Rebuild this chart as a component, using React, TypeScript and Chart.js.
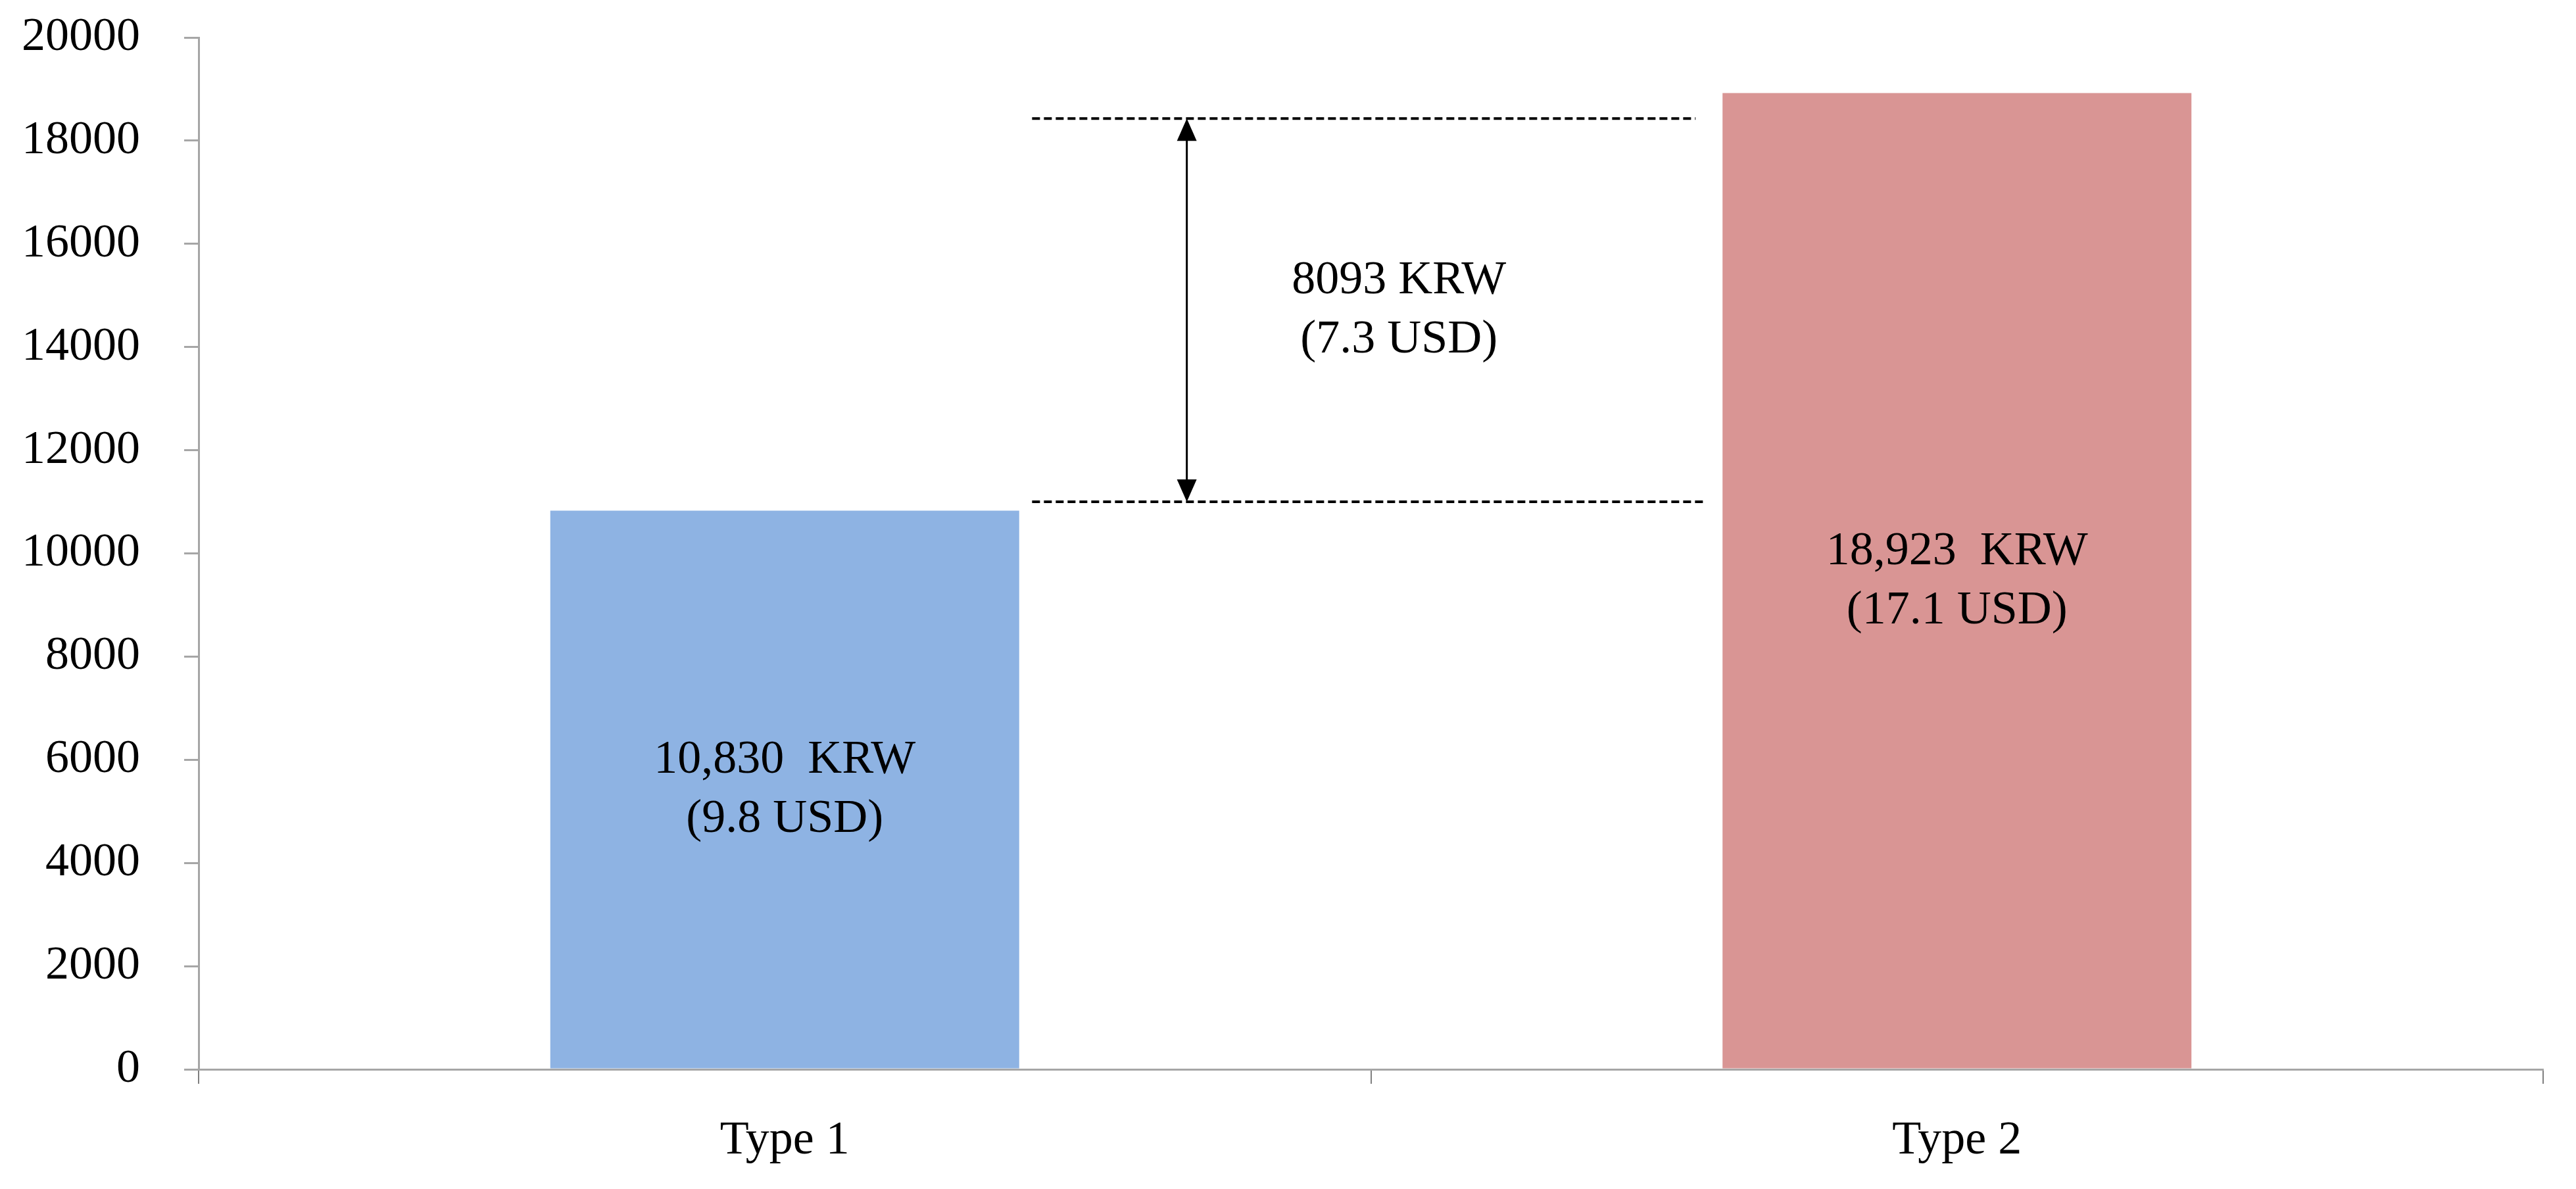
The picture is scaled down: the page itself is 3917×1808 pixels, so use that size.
import React, { useEffect, useRef } from "react";
import { Chart, registerables } from "chart.js";

Chart.register(...registerables);

const categories = ["Type 1", "Type 2"];
const values = [10830, 18923];
const krwLabels = ["10,830  KRW", "18,923  KRW"];
const usdLabels = ["(9.8 USD)", "(17.1 USD)"];
const barColors = ["#8EB3E3", "#D99594"];

const diffLow = 11000;
const diffHigh = 18430;
const diffText = ["8093 KRW", "(7.3 USD)"];
// fractional category positions for the annotation
const dashStart = 0.211;
const dashEndTop = 0.777;
const dashEndLow = 0.785;
const arrowPos = 0.343;
const diffTextPos = 0.524;

const yMin = 0;
const yMax = 20000;
const yStep = 2000;

const FONT = "'Liberation Serif', 'Times New Roman', serif";

const annotationPlugin = {
  id: "diffAnnotation",
  afterDatasetsDraw(chart: any) {
    const ctx = chart.ctx;
    const x = chart.scales.x;
    const y = chart.scales.y;
    ctx.save();
    ctx.font = `72px ${FONT}`;
    ctx.fillStyle = "#000";
    ctx.textAlign = "center";
    ctx.textBaseline = "middle";
    const half = 45;
    values.forEach((v, i) => {
      const cx = x.getPixelForValue(i);
      const cy = y.getPixelForValue(v / 2);
      ctx.fillText(krwLabels[i], cx, cy - half);
      ctx.fillText(usdLabels[i], cx, cy + half);
    });
    const yTop = y.getPixelForValue(diffHigh);
    const yLow = y.getPixelForValue(diffLow);
    ctx.strokeStyle = "#000";
    ctx.lineWidth = 4;
    ctx.setLineDash([12, 6]);
    ctx.beginPath();
    ctx.moveTo(x.getPixelForValue(dashStart), yTop);
    ctx.lineTo(x.getPixelForValue(dashEndTop), yTop);
    ctx.moveTo(x.getPixelForValue(dashStart), yLow);
    ctx.lineTo(x.getPixelForValue(dashEndLow), yLow);
    ctx.stroke();
    ctx.setLineDash([]);
    const ax = x.getPixelForValue(arrowPos);
    const ah = 34;
    const aw = 15;
    ctx.lineWidth = 3;
    ctx.beginPath();
    ctx.moveTo(ax, yTop + ah - 2);
    ctx.lineTo(ax, yLow - ah + 2);
    ctx.stroke();
    ctx.beginPath();
    ctx.moveTo(ax, yTop);
    ctx.lineTo(ax - aw, yTop + ah);
    ctx.lineTo(ax + aw, yTop + ah);
    ctx.closePath();
    ctx.fill();
    ctx.beginPath();
    ctx.moveTo(ax, yLow);
    ctx.lineTo(ax - aw, yLow - ah);
    ctx.lineTo(ax + aw, yLow - ah);
    ctx.closePath();
    ctx.fill();
    const tx = x.getPixelForValue(diffTextPos);
    const ty = y.getPixelForValue((diffLow + diffHigh) / 2);
    ctx.fillText(diffText[0], tx, ty - half);
    ctx.fillText(diffText[1], tx, ty + half);
    ctx.restore();
  },
};

export default function App() {
  const ref = useRef<HTMLCanvasElement | null>(null);
  useEffect(() => {
    if (!ref.current) return;
    const chart = new Chart(ref.current, {
      type: "bar",
      data: {
        labels: categories,
        datasets: [
          {
            data: values,
            backgroundColor: barColors,
            borderWidth: 0,
            categoryPercentage: 1,
            barPercentage: 0.4,
          },
        ],
      },
      options: {
        animation: false,
        responsive: false,
        maintainAspectRatio: false,
        layout: { padding: { top: 0, right: 50, left: 0, bottom: 0 } },
        plugins: {
          legend: { display: false },
          tooltip: { enabled: false },
        },
        scales: {
          x: {
            afterFit: (s: any) => {
              s.height = 182;
            },
            border: { display: true, color: "#A6A6A6", width: 3 },
            grid: {
              display: true,
              offset: true,
              drawOnChartArea: false,
              drawTicks: true,
              tickLength: 22,
              color: "#7F7F7F",
              lineWidth: 2,
            },
            ticks: {
              color: "#000",
              font: { family: FONT, size: 72 },
              padding: 44,
            },
          },
          y: {
            min: yMin,
            max: yMax,
            afterFit: (s: any) => {
              s.width = 302;
              s.paddingTop = 57;
              s.paddingBottom = 0;
            },
            border: { display: true, color: "#A6A6A6", width: 3 },
            grid: {
              display: true,
              drawOnChartArea: false,
              drawTicks: true,
              tickLength: 22,
              color: "#A6A6A6",
              lineWidth: 3,
            },
            ticks: {
              stepSize: yStep,
              color: "#000",
              font: { family: FONT, size: 72 },
              padding: 67,
              callback: (v: any) => String(v),
            },
          },
        },
      },
      plugins: [annotationPlugin],
    });
    return () => chart.destroy();
  }, []);
  return (
    <div style={{ position: "fixed", left: 0, top: 0, width: 3917, height: 1808, background: "#fff" }}>
      <canvas ref={ref} width={3917} height={1808} style={{ width: 3917, height: 1808, display: "block" }} />
    </div>
  );
}
